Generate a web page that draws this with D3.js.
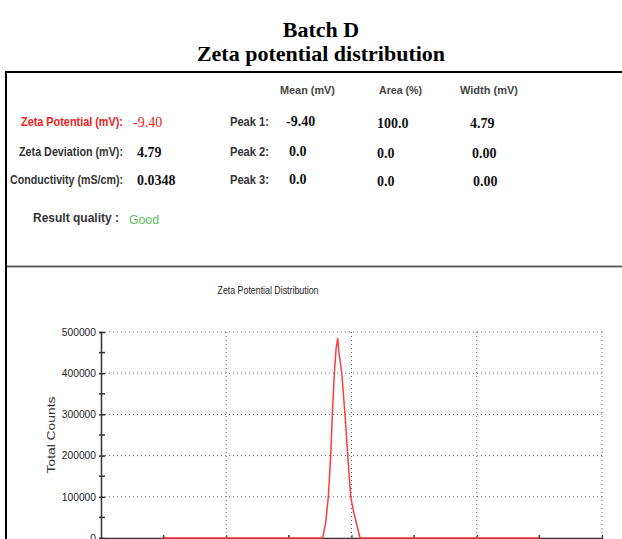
<!DOCTYPE html>
<html>
<head>
<meta charset="utf-8">
<script src="https://cdn.jsdelivr.net/npm/d3@7"></script>
<style>
  body { margin: 0; background: #fff; }
  svg { display: block; }
</style>
</head>
<body>
<div id="chart"></div>
<script>
// page heading
var titleLines = ["Batch D", "Zeta potential distribution"];

// summary block
var summaryLabels = ["Zeta Potential (mV):", "Zeta Deviation (mV):", "Conductivity (mS/cm):"];
var summaryValues = ["-9.40", "4.79", "0.0348"];
var qualityLabel = "Result quality :";
var qualityValue = "Good";

// peak table
var peakColumns = ["Mean (mV)", "Area (%)", "Width (mV)"];
var peakLabels = ["Peak 1:", "Peak 2:", "Peak 3:"];
var peakMean = ["-9.40", "0.0", "0.0"];
var peakArea = ["100.0", "0.0", "0.0"];
var peakWidth = ["4.79", "0.00", "0.00"];

// distribution curve
var zetaMv = [-150, -23, -20.5, -18.5, -16.6, -15.3, -13.7, -12.3, -11.0, -10.2, -7.8, -5.2, -3.0, -0.6, 1.4, 6.8, 150];
var totalCounts = [0, 0, 40000, 100000, 200000, 300000, 400000, 460000, 485000, 455000, 400000, 300000, 200000, 100000, 68000, 0, 0];

var chartTitle = "Zeta Potential Distribution";
var yLabel = "Total Counts";
var yTicks = [0, 100000, 200000, 300000, 400000, 500000];
var yMinorTicks = [50000, 150000, 250000, 350000, 450000];
var xTicks = [-200, -100, 0, 100, 200];
var xMinorTicks = [-150, -50, 50, 150];

var width = 622;
var height = 539;
var sans = "'Liberation Sans Narrow', 'Liberation Sans', Arial, sans-serif";
var serif = "'Liberation Serif', 'Times New Roman', serif";

var svg = d3.select("#chart").append("svg")
  .attr("width", width)
  .attr("height", height);

// heading
svg.selectAll(".title").data(titleLines).enter()
  .append("text")
  .attr("x", 321)
  .attr("y", function (d, i) { return 37 + i * 24; })
  .attr("text-anchor", "middle")
  .style("font-family", serif)
  .style("font-weight", "bold")
  .style("font-size", "22px")
  .style("fill", "#000")
  .text(function (d) { return d; });

// report frame
svg.append("line").attr("x1", 5).attr("x2", 622).attr("y1", 72).attr("y2", 72)
  .attr("stroke", "#000").attr("stroke-width", 2);
svg.append("line").attr("x1", 6).attr("x2", 6).attr("y1", 71).attr("y2", 539)
  .attr("stroke", "#000").attr("stroke-width", 2);
svg.append("rect").attr("x", 7).attr("y", 265).attr("width", 615).attr("height", 3)
  .attr("fill", "#b8b8b8");
svg.append("line").attr("x1", 7).attr("x2", 622).attr("y1", 266.5).attr("y2", 266.5)
  .attr("stroke", "#555").attr("stroke-width", 1);

// summary block
var rowY = [126, 156, 184];
var summaryWidths = [102, 104, 113];
svg.selectAll(".slabel").data(summaryLabels).enter()
  .append("text")
  .attr("x", function (d, i) { return 123 - summaryWidths[i]; })
  .attr("y", function (d, i) { return rowY[i]; })
  .attr("textLength", function (d, i) { return summaryWidths[i]; })
  .attr("lengthAdjust", "spacingAndGlyphs")
  .style("font-family", sans)
  .style("font-size", "12px")
  .style("font-weight", "bold")
  .style("fill", function (d, i) { return i === 0 ? "#ee2222" : "#333"; })
  .text(function (d) { return d; });

svg.selectAll(".svalue").data(summaryValues).enter()
  .append("text")
  .attr("x", function (d, i) { return i === 0 ? 133 : 137; })
  .attr("y", function (d, i) { return rowY[i] + 1; })
  .style("font-family", serif)
  .style("font-size", "14px")
  .style("font-weight", function (d, i) { return i === 0 ? "normal" : "bold"; })
  .style("fill", function (d, i) { return i === 0 ? "#ee2222" : "#111"; })
  .text(function (d) { return d; });

svg.append("text")
  .attr("x", 33).attr("y", 222)
  .attr("textLength", 86).attr("lengthAdjust", "spacingAndGlyphs")
  .style("font-family", sans).style("font-size", "13px").style("font-weight", "bold")
  .style("fill", "#333")
  .text(qualityLabel);
svg.append("text")
  .attr("x", 129).attr("y", 224)
  .attr("textLength", 30).attr("lengthAdjust", "spacingAndGlyphs")
  .style("font-family", sans).style("font-size", "13px")
  .style("fill", "#5cbf5c")
  .text(qualityValue);

// peak table
var colX = [280, 379, 460];
var colW = [55, 43, 58];
svg.selectAll(".pcol").data(peakColumns).enter()
  .append("text")
  .attr("x", function (d, i) { return colX[i]; })
  .attr("y", 94)
  .attr("textLength", function (d, i) { return colW[i]; })
  .attr("lengthAdjust", "spacingAndGlyphs")
  .style("font-family", sans)
  .style("font-size", "11px")
  .style("font-weight", "bold")
  .style("fill", "#444")
  .text(function (d) { return d; });

svg.selectAll(".plabel").data(peakLabels).enter()
  .append("text")
  .attr("x", 230)
  .attr("y", function (d, i) { return rowY[i]; })
  .attr("textLength", 39)
  .attr("lengthAdjust", "spacingAndGlyphs")
  .style("font-family", sans)
  .style("font-size", "12px")
  .style("font-weight", "bold")
  .style("fill", "#333")
  .text(function (d) { return d; });

var cellX = [[286, 289, 289], [377, 377, 377], [470, 472, 473]];
[peakMean, peakArea, peakWidth].forEach(function (col, c) {
  svg.selectAll(".pcell" + c).data(col).enter()
    .append("text")
    .attr("x", function (d, i) { return cellX[c][i]; })
    .attr("y", function (d, i) { return rowY[i] + (c === 0 ? 0 : 2); })
    .style("font-family", serif)
    .style("font-size", "14px")
    .style("font-weight", "bold")
    .style("fill", "#111")
    .text(function (d) { return d; });
});

// distribution plot
var x = d3.scaleLinear().domain([-200, 200]).range([101, 602]);
var y = d3.scaleLinear().domain([0, 500000]).range([538, 332]);

svg.append("text")
  .attr("x", 268).attr("y", 294)
  .attr("text-anchor", "middle")
  .attr("textLength", 101).attr("lengthAdjust", "spacingAndGlyphs")
  .style("font-family", sans).style("font-size", "10px")
  .style("fill", "#222")
  .text(chartTitle);

// dotted grid
svg.append("g").selectAll("line").data(yTicks.filter(function (d) { return d > 0; })).enter()
  .append("line")
  .attr("x1", x(-200) + 4).attr("x2", x(200))
  .attr("y1", function (d) { return y(d); }).attr("y2", function (d) { return y(d); })
  .attr("stroke", "#666").attr("stroke-width", 1).attr("stroke-dasharray", "1,3");
svg.append("g").selectAll("line").data(xTicks.filter(function (d) { return d > -200; })).enter()
  .append("line")
  .attr("x1", function (d) { return x(d); }).attr("x2", function (d) { return x(d); })
  .attr("y1", y(500000)).attr("y2", y(0))
  .attr("stroke", "#666").attr("stroke-width", 1).attr("stroke-dasharray", "1,3");

// axes
var yAxis = d3.axisLeft(y).tickValues(yTicks).tickSize(2).tickPadding(3)
  .tickFormat(d3.format("d"));
var gy = svg.append("g").attr("transform", "translate(101,0)").call(yAxis);
gy.select(".domain").attr("stroke", "#333").attr("stroke-width", 1.5);
gy.selectAll(".tick line").attr("stroke", "#333").attr("x2", -2).attr("x1", 4).attr("stroke-width", 1.5);
gy.selectAll(".tick text")
  .style("font-family", sans).style("font-size", "10px").style("fill", "#222")
  .attr("textLength", function (d) { return String(d).length * 5.7; })
  .attr("lengthAdjust", "spacingAndGlyphs");
gy.append("g").selectAll("line").data(yMinorTicks).enter()
  .append("line")
  .attr("x1", -2).attr("x2", 4)
  .attr("y1", function (d) { return y(d); }).attr("y2", function (d) { return y(d); })
  .attr("stroke", "#333").attr("stroke-width", 1.5);

// x tick labels sit below the visible area, so only the tick marks are drawn
var xAxis = d3.axisBottom(x).tickValues(xTicks).tickSize(3).tickFormat("");
var gx = svg.append("g").attr("transform", "translate(0,538)").call(xAxis);
gx.select(".domain").attr("stroke", "#333").attr("stroke-width", 1.5);
gx.selectAll(".tick line").attr("stroke", "#333").attr("y1", -3);
gx.append("g").selectAll("line").data(xMinorTicks).enter()
  .append("line")
  .attr("x1", function (d) { return x(d); }).attr("x2", function (d) { return x(d); })
  .attr("y1", -3).attr("y2", 0)
  .attr("stroke", "#333").attr("stroke-width", 1.5);

svg.append("text")
  .attr("transform", "translate(55,435) rotate(-90)")
  .attr("text-anchor", "middle")
  .attr("textLength", 77).attr("lengthAdjust", "spacingAndGlyphs")
  .style("font-family", "'Liberation Sans', Arial, sans-serif").style("font-size", "11px")
  .style("fill", "#333")
  .text(yLabel);

// curve
var points = zetaMv.map(function (v, i) { return [v, totalCounts[i]]; });
var line = d3.line()
  .x(function (d) { return x(d[0]); })
  .y(function (d) { return y(d[1]); });
svg.append("path")
  .datum(points)
  .attr("d", line)
  .attr("fill", "none")
  .attr("stroke", "#ff3b3b")
  .attr("stroke-width", 1.5);
</script>
</body>
</html>
